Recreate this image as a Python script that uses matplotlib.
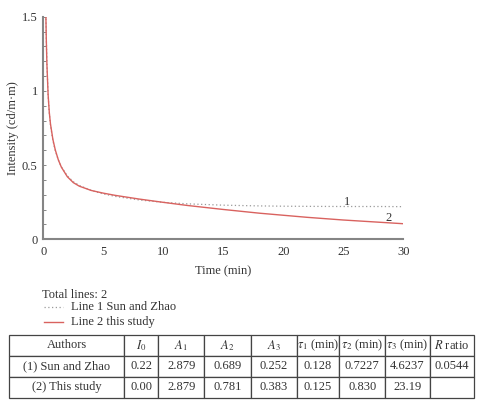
import matplotlib
matplotlib.use("Agg")
from matplotlib import pyplot as plt
from matplotlib.lines import Line2D
from matplotlib.ticker import MultipleLocator

# Curve values (time in min, intensity in cd/m·m)
t = [0.2, 0.25, 0.3, 0.4, 0.5, 0.6, 0.8, 1.0, 1.25, 1.5, 2, 2.5, 3, 4, 5,
     6, 8, 10, 12, 15, 18, 20, 22, 25, 28, 30]
line1 = [1.587, 1.355, 1.187, 0.974, 0.849, 0.768, 0.665, 0.597, 0.535, 0.489,
         0.427, 0.388, 0.363, 0.329, 0.306, 0.289, 0.265, 0.249, 0.239, 0.230,
         0.225, 0.223, 0.222, 0.221, 0.221, 0.220]
line2 = [1.575, 1.346, 1.183, 0.976, 0.855, 0.776, 0.673, 0.602, 0.536, 0.487,
         0.422, 0.382, 0.358, 0.329, 0.311, 0.296, 0.271, 0.249, 0.228, 0.201,
         0.176, 0.162, 0.148, 0.130, 0.115, 0.105]

legend_labels = ["Line 1 Sun and Zhao", "Line 2 this study"]

col_labels = ["Authors", r"$I_0$", r"$A_1$", r"$A_2$", r"$A_3$",
              r"$\tau_1$ (min)", r"$\tau_2$ (min)", r"$\tau_3$ (min)", r"$R$ ratio"]
row1 = ["(1) Sun and Zhao", "0.22", "2.879", "0.689", "0.252", "0.128", "0.7227", "4.6237", "0.0544"]
row2 = ["(2) This study", "0.00", "2.879", "0.781", "0.383", "0.125", "0.830", "23.19", ""]

plt.rcParams['font.family'] = ['Liberation Serif', 'DejaVu Serif']
plt.rcParams['mathtext.fontset'] = 'stix'

W, H = 481, 408
fig = plt.figure(figsize=(W / 100, H / 100), dpi=100)
ax = fig.add_axes([43.3 / W, 1 - 239.3 / H, 360 / W, 222.6 / H])

red = "#d9625f"
grey = "#9a9a9a"
txtc = "#333333"
ax.plot(t, line1, color=grey, lw=0.9, ls=(0, (1, 2)), label=legend_labels[0])
ax.plot(t, line2, color=red, lw=1.0, label=legend_labels[1])
ax.text(25.3, 0.253, "1", fontsize=9, ha="center", va="center", color=txtc)
ax.text(28.8, 0.144, "2", fontsize=9, ha="center", va="center", color=txtc)

ax.set_xlim(0, 30)
ax.set_ylim(0, 1.5)
ax.set_xticks([0, 5, 10, 15, 20, 25, 30])
ax.set_yticks([0, 0.5, 1, 1.5])
ax.set_yticklabels(["0", "0.5", "1", "1.5"])
ax.yaxis.set_minor_locator(MultipleLocator(0.1))
ax.tick_params(axis="x", which="major", length=0, labelcolor=txtc, labelsize=9, pad=5)
ax.tick_params(axis="y", which="major", direction="in", length=2.5, width=0.7,
               colors="#888888", labelcolor=txtc, labelsize=9, pad=4)
ax.tick_params(axis="y", which="minor", direction="in", length=2.5, width=0.7, colors="#888888")
for s in ["top", "right"]:
    ax.spines[s].set_visible(False)
for s in ["left", "bottom"]:
    ax.spines[s].set_color("#858585")
    ax.spines[s].set_linewidth(1.5)
ax.set_xlabel("Time (min)", fontsize=9, color=txtc, labelpad=5)
ax.set_ylabel("Intensity (cd/m·m)", fontsize=9, color=txtc, labelpad=2)

# Legend block below the plot (figure pixel coordinates)
def fx(px):
    return px / W

def fy(py):
    return 1 - py / H

fig.text(fx(42.5), fy(295), "Total lines: 2", fontsize=9, color=txtc, va="center")
legend_styles = [dict(color=grey, lw=0.9, ls=(0, (1, 2))), dict(color=red, lw=1.0)]
for i, (lab, sty) in enumerate(zip(legend_labels, legend_styles)):
    yy = fy(307 + 15 * i)
    fig.add_artist(Line2D([fx(44), fx(63)], [yy, yy], transform=fig.transFigure, **sty))
    fig.text(fx(71), yy, lab, fontsize=9, color=txtc, va="center")

# Table
tab_ax = fig.add_axes([9.3 / W, 1 - 397.7 / H, (474 - 9.3) / W, (397.7 - 335) / H])
tab_ax.axis("off")
edges = [9.3, 124, 158.3, 204, 250.7, 296.7, 339.3, 385, 430, 474]
widths = [(edges[i + 1] - edges[i]) / (edges[-1] - edges[0]) for i in range(len(edges) - 1)]
tbl = tab_ax.table(cellText=[row1, row2], colLabels=col_labels, colWidths=widths,
                   cellLoc="center", bbox=[0, 0, 1, 1])
tbl.auto_set_font_size(False)
tbl.set_fontsize(9)
for (r, c), cell in tbl.get_celld().items():
    cell.set_edgecolor("#444444")
    cell.set_linewidth(0.9)
    cell.get_text().set_color(txtc)

fig.savefig("out.png", dpi=100)
